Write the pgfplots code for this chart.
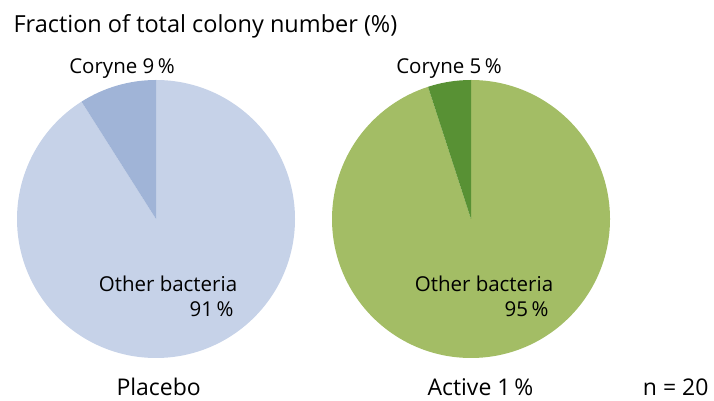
\documentclass[border=0pt]{standalone}
\usepackage{pgfplots}
\pgfplotsset{compat=1.18}
\usepackage{fontspec}
\setmainfont{Open Sans}
\definecolor{txt}{RGB}{96,96,96}
\definecolor{otherA}{RGB}{198,210,232}
\definecolor{coryneA}{RGB}{160,180,215}
\definecolor{otherB}{RGB}{163,189,101}
\definecolor{coryneB}{RGB}{88,145,52}
\begin{document}
\begin{tikzpicture}
\begin{axis}[
  width=714pt, height=401pt, scale only axis,
  xmin=0, xmax=714, ymin=0, ymax=401,
  hide axis, clip=false, no markers,
  every node/.style={text=txt, inner sep=0pt}]
\path (rel axis cs:0,0) rectangle (rel axis cs:1,1);
% Placebo: Coryne 9 %, other bacteria 91 %
\addplot[fill=otherA, draw=none] coordinates {(156,182) (156,321)}
  arc[start angle=90, delta angle=-91*3.6, radius=139pt] -- cycle;
\addplot[fill=coryneA, draw=none] coordinates {(156,182) (156,321)}
  arc[start angle=90, delta angle=9*3.6, radius=139pt] -- cycle;
% Active 1 %: Coryne 5 %, other bacteria 95 %
\addplot[fill=otherB, draw=none] coordinates {(471,182) (471,321)}
  arc[start angle=90, delta angle=-95*3.6, radius=139pt] -- cycle;
\addplot[fill=coryneB, draw=none] coordinates {(471,182) (471,321)}
  arc[start angle=90, delta angle=5*3.6, radius=139pt] -- cycle;

\node[anchor=base west, font=\fontsize{23.5}{28}\selectfont] at (axis cs:10,368) {Fraction of total colony number (\%)};
\node[anchor=base, font=\fontsize{20.5}{24}\selectfont] at (axis cs:122,327) {Coryne 9\,\%};
\node[anchor=base, font=\fontsize{20.5}{24}\selectfont] at (axis cs:449,327) {Coryne 5\,\%};
\node[anchor=base, font=\fontsize{20.5}{24}\selectfont] at (axis cs:168,109) {Other bacteria};
\node[anchor=base east, font=\fontsize{20.5}{24}\selectfont] at (axis cs:237,84) {91\,\%};
\node[anchor=base, font=\fontsize{20.5}{24}\selectfont] at (axis cs:484,109) {Other bacteria};
\node[anchor=base east, font=\fontsize{20.5}{24}\selectfont] at (axis cs:552,84) {95\,\%};
\node[anchor=base west, font=\fontsize{23}{27}\selectfont] at (axis cs:113,5) {Placebo};
\node[anchor=base west, font=\fontsize{23}{27}\selectfont] at (axis cs:424,5) {Active 1\,\%};
\node[anchor=base east, font=\fontsize{23}{27}\selectfont] at (axis cs:712,5) {n = 20};
\end{axis}
\end{tikzpicture}
\end{document}
